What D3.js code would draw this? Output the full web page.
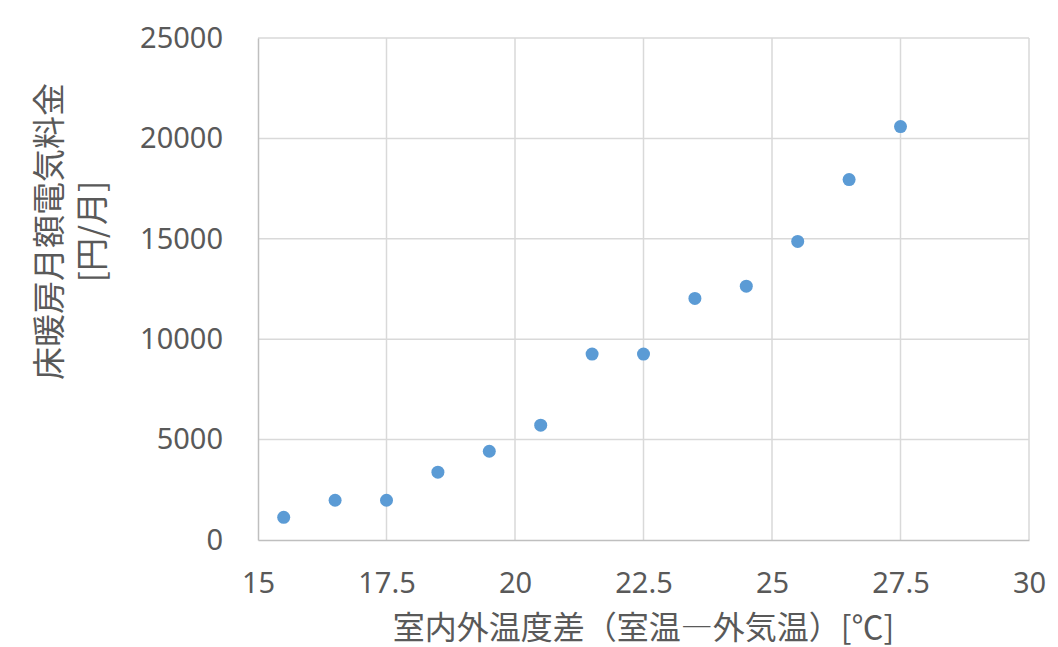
<!DOCTYPE html>
<html>
<head>
<meta charset="utf-8">
<script src="https://cdn.jsdelivr.net/npm/d3@7"></script>
<style>
  body { margin: 0; background: #fff; }
  text { font-family: "Noto Sans", "Noto Sans CJK JP", sans-serif; fill: #595959; }
</style>
</head>
<body>
<div id="viz"></div>
<script>
// data
var tempDiff = [15.5, 16.5, 17.5, 18.5, 19.5, 20.5, 21.5, 22.5, 23.5, 24.5, 25.5, 26.5, 27.5];
var monthlyCost = [1130, 1980, 1980, 3380, 4420, 5720, 9260, 9260, 12030, 12640, 14870, 17950, 20590];
var xTicks = [15, 17.5, 20, 22.5, 25, 27.5, 30];
var yTicks = [0, 5000, 10000, 15000, 20000, 25000];
var xTitle = "室内外温度差（室温―外気温）[℃]";
var yTitle = ["床暖房月額電気料金", "[円/月]"];

var width = 1058,
    height = 647;

var plot = { left: 258, right: 1029, top: 38, bottom: 540 };

var svg = d3.select("#viz").append("svg")
    .attr("width", width)
    .attr("height", height);

var x = d3.scaleLinear().domain([15, 30]).range([plot.left, plot.right]);
var y = d3.scaleLinear().domain([0, 25000]).range([plot.bottom, plot.top]);

// grid lines
svg.append("g").selectAll("line.gy")
    .data(yTicks.slice(1))
    .enter().append("line")
    .attr("x1", plot.left).attr("x2", plot.right)
    .attr("y1", function(d) { return y(d); })
    .attr("y2", function(d) { return y(d); })
    .style("stroke", "#d9d9d9")
    .style("stroke-width", 1.5);

svg.append("g").selectAll("line.gx")
    .data(xTicks.slice(1))
    .enter().append("line")
    .attr("y1", plot.top).attr("y2", plot.bottom)
    .attr("x1", function(d) { return x(d); })
    .attr("x2", function(d) { return x(d); })
    .style("stroke", "#d9d9d9")
    .style("stroke-width", 1.5);

// axes
var xAxis = d3.axisBottom(x).tickValues(xTicks).tickSize(0).tickPadding(32)
    .tickFormat(d3.format(""));
var yAxis = d3.axisLeft(y).tickValues(yTicks).tickSize(0).tickPadding(35)
    .tickFormat(d3.format("d"));

var gx = svg.append("g")
    .attr("transform", "translate(0," + plot.bottom + ")")
    .call(xAxis);
var gy = svg.append("g")
    .attr("transform", "translate(" + plot.left + ",0)")
    .call(yAxis);

[gx, gy].forEach(function(g) {
    g.select(".domain").style("stroke", "#bfbfbf").style("stroke-width", 1.5);
    g.selectAll("text")
        .style("font-size", "29px")
        .style("fill", "#595959")
        .style("font-family", "'Noto Sans', sans-serif");
});
gx.selectAll("text").attr("dy", "0.71em");

// points
svg.append("g").selectAll("circle")
    .data(tempDiff)
    .enter().append("circle")
    .attr("cx", function(d) { return x(d); })
    .attr("cy", function(d, i) { return y(monthlyCost[i]); })
    .attr("r", 6.5)
    .style("fill", "#5b9bd5");

// axis titles
svg.append("text")
    .attr("x", (plot.left + plot.right) / 2)
    .attr("y", 625)
    .attr("text-anchor", "middle")
    .attr("dominant-baseline", "central")
    .style("font-family", "'Noto Sans CJK JP', sans-serif")
    .style("font-size", "32px")
    .text(xTitle);

var yt = svg.append("text")
    .attr("transform", "translate(47,231.5) rotate(-90)")
    .attr("text-anchor", "middle")
    .style("font-family", "'Noto Sans CJK JP', sans-serif")
    .style("font-size", "33px");

yt.selectAll("tspan")
    .data(yTitle)
    .enter().append("tspan")
    .attr("x", 0)
    .attr("y", function(d, i) { return i * 43; })
    .attr("dominant-baseline", "central")
    .text(function(d) { return d; });
</script>
</body>
</html>
